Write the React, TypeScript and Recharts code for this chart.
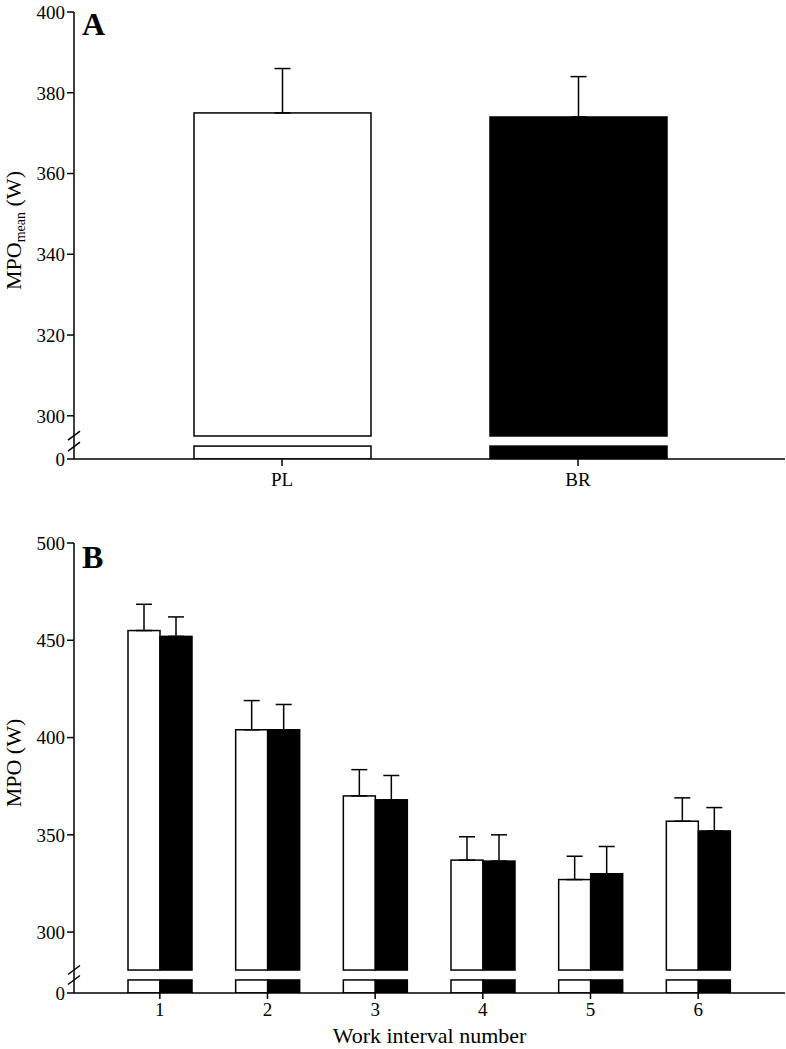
import React from 'react';
import { BarChart, Bar, XAxis, YAxis, ErrorBar, Cell, ReferenceLine } from 'recharts';

// Panel A: mean MPO over the whole session
const conditionsA = ['PL', 'BR'];
const meanA = [375, 374];
const sdA = [11, 10];
const ticksA = [300, 320, 340, 360, 380, 400];

// Panel B: MPO per work interval
const intervalsB = ['1', '2', '3', '4', '5', '6'];
const plB = [455, 404, 370, 337, 327, 357];
const plSdB = [13.5, 15, 13.5, 12, 12, 12];
const brB = [452, 404, 368, 336.5, 330, 352];
const brSdB = [10, 13, 12.5, 13.5, 14, 12];
const ticksB = [300, 350, 400, 450, 500];

// broken axis: values below `from` are cut out, leaving a short stub near 0
type Brk = { from: number; low: number; gap: number; top: number };
const brkA: Brk = { from: 295, low: 3.2, gap: 2.5, top: 400 };
const brkB: Brk = { from: 280.5, low: 6.7, gap: 5.1, top: 500 };

const toDisp = (b: Brk, v: number) => v - b.from + b.low + b.gap;
const fromDisp = (b: Brk, d: number) => d - b.low - b.gap + b.from;

const dataA = conditionsA.map((name, i) => ({ name, v: toDisp(brkA, meanA[i]), sd: sdA[i] }));
const dataB = intervalsB.map((name, i) => ({
  name,
  pl: toDisp(brkB, plB[i]),
  br: toDisp(brkB, brB[i]),
  plSd: plSdB[i],
  brSd: brSdB[i],
}));

const FONT = '"Liberation Serif", "Times New Roman", serif';
const axisStyle = { stroke: '#000', strokeWidth: 1.5 };
const tickStyle = { fill: '#000', fontSize: 19, fontFamily: FONT };

const brokenBar = (b: Brk, key: string) => (props: any) => {
  const { x, y, width, height, fill, payload } = props;
  const d = payload[key];
  if (!d || !height) return <g />;
  const ppu = height / d;
  const base = y + height;
  const cutTop = base - (b.low + b.gap) * ppu;
  const lowTop = base - b.low * ppu;
  return (
    <g>
      <rect x={x} y={y} width={width} height={cutTop - y} fill={fill} stroke="#000" strokeWidth={1.5} />
      <rect x={x} y={lowTop} width={width} height={base - lowTop} fill={fill} stroke="#000" strokeWidth={1.5} />
    </g>
  );
};

const breakMark = (sep: number) => (props: any) => {
  const { x1, y1 } = props;
  return (
    <g>
      <rect x={x1 - 3} y={y1 - sep} width={6} height={sep * 2} fill="#fff" />
      <line x1={x1 - 6} y1={y1 - sep + 4.5} x2={x1 + 6} y2={y1 - sep - 4.5} stroke="#000" strokeWidth={1.5} />
      <line x1={x1 - 6} y1={y1 + sep + 4.5} x2={x1 + 6} y2={y1 + sep - 4.5} stroke="#000" strokeWidth={1.5} />
    </g>
  );
};

const YTitle = (props: any) => {
  const { viewBox, main, sub } = props;
  const cx = 21;
  const cy = viewBox.y + viewBox.height / 2 - 5;
  return (
    <text
      x={cx}
      y={cy}
      transform={`rotate(-90, ${cx}, ${cy})`}
      textAnchor="middle"
      fill="#000"
      fontSize={22}
      fontFamily={FONT}
    >
      <tspan>{main}</tspan>
      {sub ? (
        <tspan dy={4} fontSize={14}>
          {sub}
        </tspan>
      ) : null}
      <tspan dy={sub ? -4 : 0}> (W)</tspan>
    </text>
  );
};

const panelLetter = (top: number): React.CSSProperties => ({
  position: 'absolute',
  left: 82,
  top,
  fontFamily: FONT,
  fontWeight: 'bold',
  fontSize: 32,
  lineHeight: '32px',
});

export default function App() {
  return (
    <div style={{ position: 'absolute', left: 0, top: 0, width: 786, height: 1049, background: '#fff', fontFamily: FONT }}>
      <div style={{ position: 'absolute', left: 0, top: 0 }}>
        <BarChart width={786} height={510} data={dataA} margin={{ top: 12, right: 1, bottom: 0, left: 0 }}>
          <XAxis
            dataKey="name"
            height={51}
            padding={{ left: 60, right: 59 }}
            tickSize={7}
            tickMargin={7}
            axisLine={axisStyle}
            tickLine={axisStyle}
            tick={tickStyle}
          />
          <YAxis
            type="number"
            width={74}
            domain={[0, toDisp(brkA, brkA.top)]}
            allowDataOverflow
            ticks={[0, ...ticksA.map((t) => toDisp(brkA, t))]}
            tickFormatter={(d: number) => (d === 0 ? '0' : String(Math.round(fromDisp(brkA, d))))}
            tickSize={7}
            tickMargin={2}
            axisLine={axisStyle}
            tickLine={axisStyle}
            tick={tickStyle}
            label={<YTitle main="MPO" sub="mean" />}
          />
          <Bar dataKey="v" barSize={177} shape={brokenBar(brkA, 'v')} isAnimationActive={false}>
            {dataA.map((d, i) => (
              <Cell key={d.name} fill={i === 0 ? '#fff' : '#000'} />
            ))}
            <ErrorBar dataKey={(d: any) => [0, d.sd]} width={8} stroke="#000" strokeWidth={1.5} direction="y" />
          </Bar>
          <ReferenceLine y={brkA.low + brkA.gap / 2} stroke="none" shape={breakMark(5.5)} />
        </BarChart>
      </div>
      <div style={panelLetter(8)}>A</div>

      <div style={{ position: 'absolute', left: 0, top: 510 }}>
        <BarChart width={786} height={539} data={dataB} barGap={0} margin={{ top: 33, right: 1, bottom: 0, left: 0 }}>
          <XAxis
            dataKey="name"
            height={56}
            padding={{ left: 32, right: 33 }}
            tickSize={6}
            tickMargin={4}
            axisLine={axisStyle}
            tickLine={axisStyle}
            tick={tickStyle}
            label={{ value: 'Work interval number', position: 'insideBottom', offset: 6, fill: '#000', fontSize: 22, fontFamily: FONT }}
          />
          <YAxis
            type="number"
            width={74}
            domain={[0, toDisp(brkB, brkB.top)]}
            allowDataOverflow
            ticks={[0, ...ticksB.map((t) => toDisp(brkB, t))]}
            tickFormatter={(d: number) => (d === 0 ? '0' : String(Math.round(fromDisp(brkB, d))))}
            tickSize={7}
            tickMargin={2}
            axisLine={axisStyle}
            tickLine={axisStyle}
            tick={tickStyle}
            label={<YTitle main="MPO" />}
          />
          <Bar dataKey="pl" fill="#fff" barSize={32} shape={brokenBar(brkB, 'pl')} isAnimationActive={false}>
            <ErrorBar dataKey={(d: any) => [0, d.plSd]} width={8} stroke="#000" strokeWidth={1.5} direction="y" />
          </Bar>
          <Bar dataKey="br" fill="#000" barSize={32} shape={brokenBar(brkB, 'br')} isAnimationActive={false}>
            <ErrorBar dataKey={(d: any) => [0, d.brSd]} width={8} stroke="#000" strokeWidth={1.5} direction="y" />
          </Bar>
          <ReferenceLine y={brkB.low + brkB.gap / 2} stroke="none" shape={breakMark(5)} />
        </BarChart>
      </div>
      <div style={panelLetter(541)}>B</div>
    </div>
  );
}
